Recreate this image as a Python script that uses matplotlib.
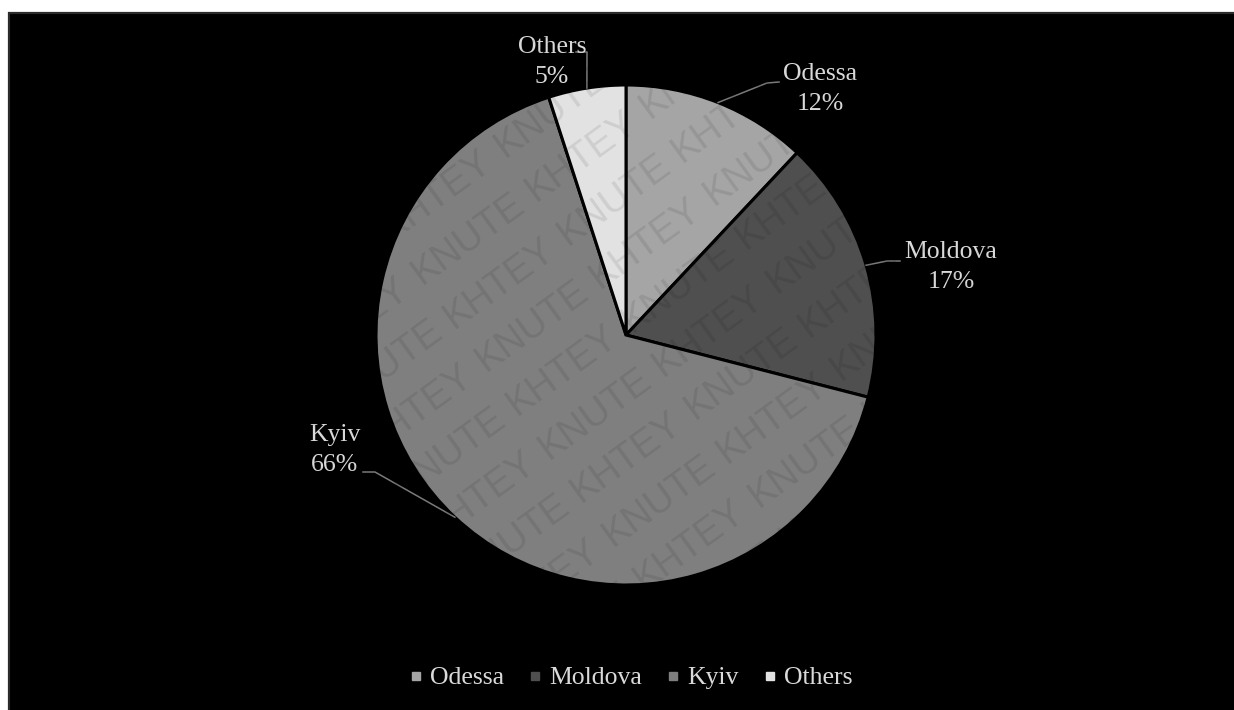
import numpy as np
import matplotlib
matplotlib.use('Agg')
import matplotlib.pyplot as plt
from matplotlib.patches import Rectangle
from matplotlib.lines import Line2D

regions = ['Odessa', 'Moldova', 'Kyiv', 'Others']
shares = [12, 17, 66, 5]
colors = ['#a5a5a5', '#4f4f4f', '#7f7f7f', '#e2e2e2']

W, H = 1234, 710
txt = '#d9d9d9'
serif = 'Liberation Serif'

fig = plt.figure(figsize=(W / 100, H / 100), dpi=100, facecolor='white')
ax = fig.add_axes([0, 0, 1, 1])

# black panel with thin dark frame
ax.add_patch(Rectangle((9, -5), W, H - 8, facecolor='black',
                       edgecolor='#2b2b2b', lw=1.6, zorder=0))

cx, cy, r = 626, H - 335, 250
wedges, _ = ax.pie(shares, colors=colors, startangle=90, counterclock=False,
                   center=(cx, cy), radius=r, frame=True,
                   wedgeprops=dict(edgecolor='black', linewidth=2.2))

# label centre, elbow and end of leader line (pixels from top-left)
label_pos = [(820, 89), (951, 267), (335, 450), (552, 62)]
elbows = [((767, 83), (779, 82)), ((887, 261), (900, 261)),
          ((375, 472), (363, 472)), ((587, 52), (576, 52))]

for w, name, val, (lx, ly), (e1, e2) in zip(wedges, regions, shares,
                                             label_pos, elbows):
    mid = np.deg2rad((w.theta1 + w.theta2) / 2)
    sx, sy = cx + r * np.cos(mid), cy + r * np.sin(mid)
    ax.plot([sx, e1[0], e2[0]], [sy, H - e1[1], H - e2[1]],
            color='#7a7a7a', lw=1.1, zorder=3)
    ax.text(lx, H - ly, f'{name}\n{val}%', ha='center', va='center',
            color=txt, fontsize=18.5, family=serif, linespacing=1.42,
            zorder=4)

handles = [Line2D([], [], marker='s', ls='', markersize=5.5, color=c)
           for c in colors]
ax.legend(handles, regions, loc='center', bbox_to_anchor=(631 / W, 1 - 678 / H),
          ncol=4, frameon=False, handlelength=0.5, handletextpad=0.3,
          columnspacing=0.95, labelcolor=txt,
          prop=dict(family=serif, size=18.5))

# diagonal watermark, one word at a time, only where it fits on the sheet
ang = 36
d = np.array([np.cos(np.deg2rad(ang)), np.sin(np.deg2rad(ang))])
n = np.array([-d[1], d[0]])
words = ['KNUTE', 'KHTEY']
word_len, word_h, step = 132, 30, 141
for k in range(-16, 18):
    base = np.array([-300, -500]) + n * 54 * k
    for j in range(-2, 15):
        p = base + d * step * (j + (k % 2))
        lo, hi = p - n * 10, p + n * word_h
        corners = [lo, hi, lo + d * word_len, hi + d * word_len]
        if not all(4 <= c[0] <= W - 4 and 4 <= c[1] <= H - 4 for c in corners):
            continue
        ax.text(p[0], p[1], words[j % 2], rotation=ang, rotation_mode='anchor',
                ha='left', va='baseline', family='Liberation Sans',
                fontsize=27.5, color='black', alpha=0.09, zorder=5)

ax.set_xlim(0, W)
ax.set_ylim(0, H)
ax.set_aspect('auto')
ax.axis('off')

fig.savefig('out.png', dpi=100, facecolor='white')
